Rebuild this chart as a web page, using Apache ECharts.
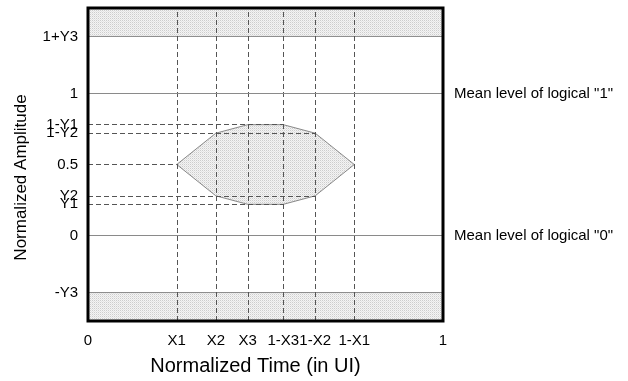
<!DOCTYPE html>
<html>
<head>
<meta charset="utf-8">
<script src="https://cdn.jsdelivr.net/npm/echarts@6/dist/echarts.min.js"></script>
<style>html,body{margin:0;padding:0;background:#fff;}#c{width:628px;height:381px;}</style>
</head>
<body>
<div id="c"></div>
<script>
// ---- data ----
const xTickValues = [0, 0.25, 0.36, 0.45, 0.55, 0.64, 0.75, 1];
const xTickLabels = ['0', 'X1', 'X2', 'X3', '1-X3', '1-X2', '1-X1', '1'];
const yTickValues = [-0.4, 0, 0.22, 0.28, 0.5, 0.72, 0.78, 1, 1.4];
const yTickLabels = ['-Y3', '0', 'Y1', 'Y2', '0.5', '1-Y2', '1-Y1', '1', '1+Y3'];
const maskX = [0.25, 0.36, 0.45, 0.55, 0.64, 0.75, 0.64, 0.55, 0.45, 0.36];
const maskY = [0.5, 0.72, 0.78, 0.78, 0.72, 0.5, 0.28, 0.22, 0.22, 0.28];
const bandLow = [1.4, -0.6];
const bandHigh = [1.6, -0.4];
const guideLevels = [0.5, 0.72, 0.78, 0.28, 0.22];
const guideEnds = [0.25, 0.64, 0.55, 0.64, 0.55];
const verticalGuides = [0.25, 0.36, 0.45, 0.55, 0.64, 0.75];
const meanLevels = [1, 0];
const meanLabels = ['Mean level of logical "1"', 'Mean level of logical "0"'];
const xRange = [0, 1];
const yRange = [-0.6, 1.6];

// dotted fill pattern
const pc = document.createElement('canvas');
pc.width = 2; pc.height = 2;
const pctx = pc.getContext('2d');
pctx.fillStyle = '#f4f4f4'; pctx.fillRect(0, 0, 2, 2);
pctx.fillStyle = '#cdcdcd'; pctx.fillRect(0, 0, 1, 1);
pctx.fillStyle = '#e4e4e4'; pctx.fillRect(1, 1, 1, 1);
const dotFill = { image: pc, repeat: 'repeat' };

const font = '"Liberation Sans", Arial, sans-serif';
const chart = echarts.init(document.getElementById('c'), null, { renderer: 'canvas' });

const labelMapX = {}; xTickValues.forEach((v, i) => labelMapX[v] = xTickLabels[i]);
const labelMapY = {}; yTickValues.forEach((v, i) => labelMapY[v] = yTickLabels[i]);

chart.setOption({
  animation: false,
  backgroundColor: '#fff',
  grid: { left: 88, right: 185, top: 8, bottom: 58, show: true, borderColor: '#000', borderWidth: 3, z: 10 },
  xAxis: {
    type: 'value', min: xRange[0], max: xRange[1],
    name: 'Normalized Time (in UI)', nameLocation: 'middle', nameGap: 35,
    nameTextStyle: { fontSize: 20, color: '#000', fontFamily: font, padding: [0, 20, 0, 0] },
    axisLine: { show: false }, axisTick: { show: false }, splitLine: { show: false },
    axisLabel: { customValues: xTickValues, margin: 12, fontSize: 15, color: '#000', fontFamily: font,
      formatter: v => labelMapX[v] !== undefined ? labelMapX[v] : '' }
  },
  yAxis: {
    type: 'value', min: yRange[0], max: yRange[1],
    name: 'Normalized Amplitude', nameLocation: 'middle', nameGap: 58,
    nameTextStyle: { fontSize: 17, color: '#000', fontFamily: font, padding: [0, 26, 0, 0] },
    axisLine: { show: false }, axisTick: { show: false }, splitLine: { show: false },
    axisLabel: { customValues: yTickValues, margin: 10, fontSize: 15, color: '#000', fontFamily: font,
      formatter: v => labelMapY[v] !== undefined ? labelMapY[v] : '' }
  },
  series: [
    {
      type: 'custom', name: 'bands', z: 1, silent: true,
      data: bandLow.map((v, i) => [v, bandHigh[i]]),
      renderItem: function (params, api) {
        const lo = api.value(0), hi = api.value(1);
        const p1 = api.coord([xRange[0], hi]);
        const p2 = api.coord([xRange[1], lo]);
        const edgeY = lo === yRange[0] ? hi : lo;
        const e1 = api.coord([xRange[0], edgeY]);
        const e2 = api.coord([xRange[1], edgeY]);
        return { type: 'group', children: [
          { type: 'rect', shape: { x: p1[0], y: p1[1], width: p2[0] - p1[0], height: p2[1] - p1[1] }, style: { fill: dotFill } },
          { type: 'line', shape: { x1: e1[0], y1: e1[1], x2: e2[0], y2: e2[1] }, style: { stroke: '#8a8a8a', lineWidth: 1 } }
        ]};
      }
    },
    {
      type: 'custom', name: 'mask', z: 2, silent: true,
      data: maskX.map((x, i) => [x, maskY[i]]),
      renderItem: function (params, api) {
        if (params.dataIndex !== 0) return;
        const pts = maskX.map((x, i) => api.coord([x, maskY[i]]));
        return { type: 'polygon', shape: { points: pts }, style: { fill: dotFill, stroke: '#888', lineWidth: 1 } };
      }
    },
    {
      type: 'lines', coordinateSystem: 'cartesian2d', z: 3, silent: true,
      lineStyle: { color: '#555', width: 1, type: [5, 3], opacity: 1 },
      data: guideLevels.map((y, i) => ({ coords: [[xRange[0], y], [guideEnds[i], y]] }))
    },
    {
      type: 'line', data: [], z: 4, silent: true,
      markLine: {
        symbol: 'none', silent: true, animation: false,
        lineStyle: { color: '#555', width: 1, type: [5, 3] },
        label: { show: false },
        data: verticalGuides.map(x => ({ xAxis: x }))
      }
    },
    {
      type: 'line', data: [], z: 4, silent: true,
      markLine: {
        symbol: 'none', silent: true, animation: false,
        lineStyle: { color: '#8a8a8a', width: 1, type: 'solid' },
        label: { show: true, position: 'end', distance: 11, fontSize: 15, color: '#000', fontFamily: font },
        data: meanLevels.map((y, i) => ({ yAxis: y, label: { formatter: meanLabels[i] } }))
      }
    }
  ]
});
</script>
</body>
</html>
